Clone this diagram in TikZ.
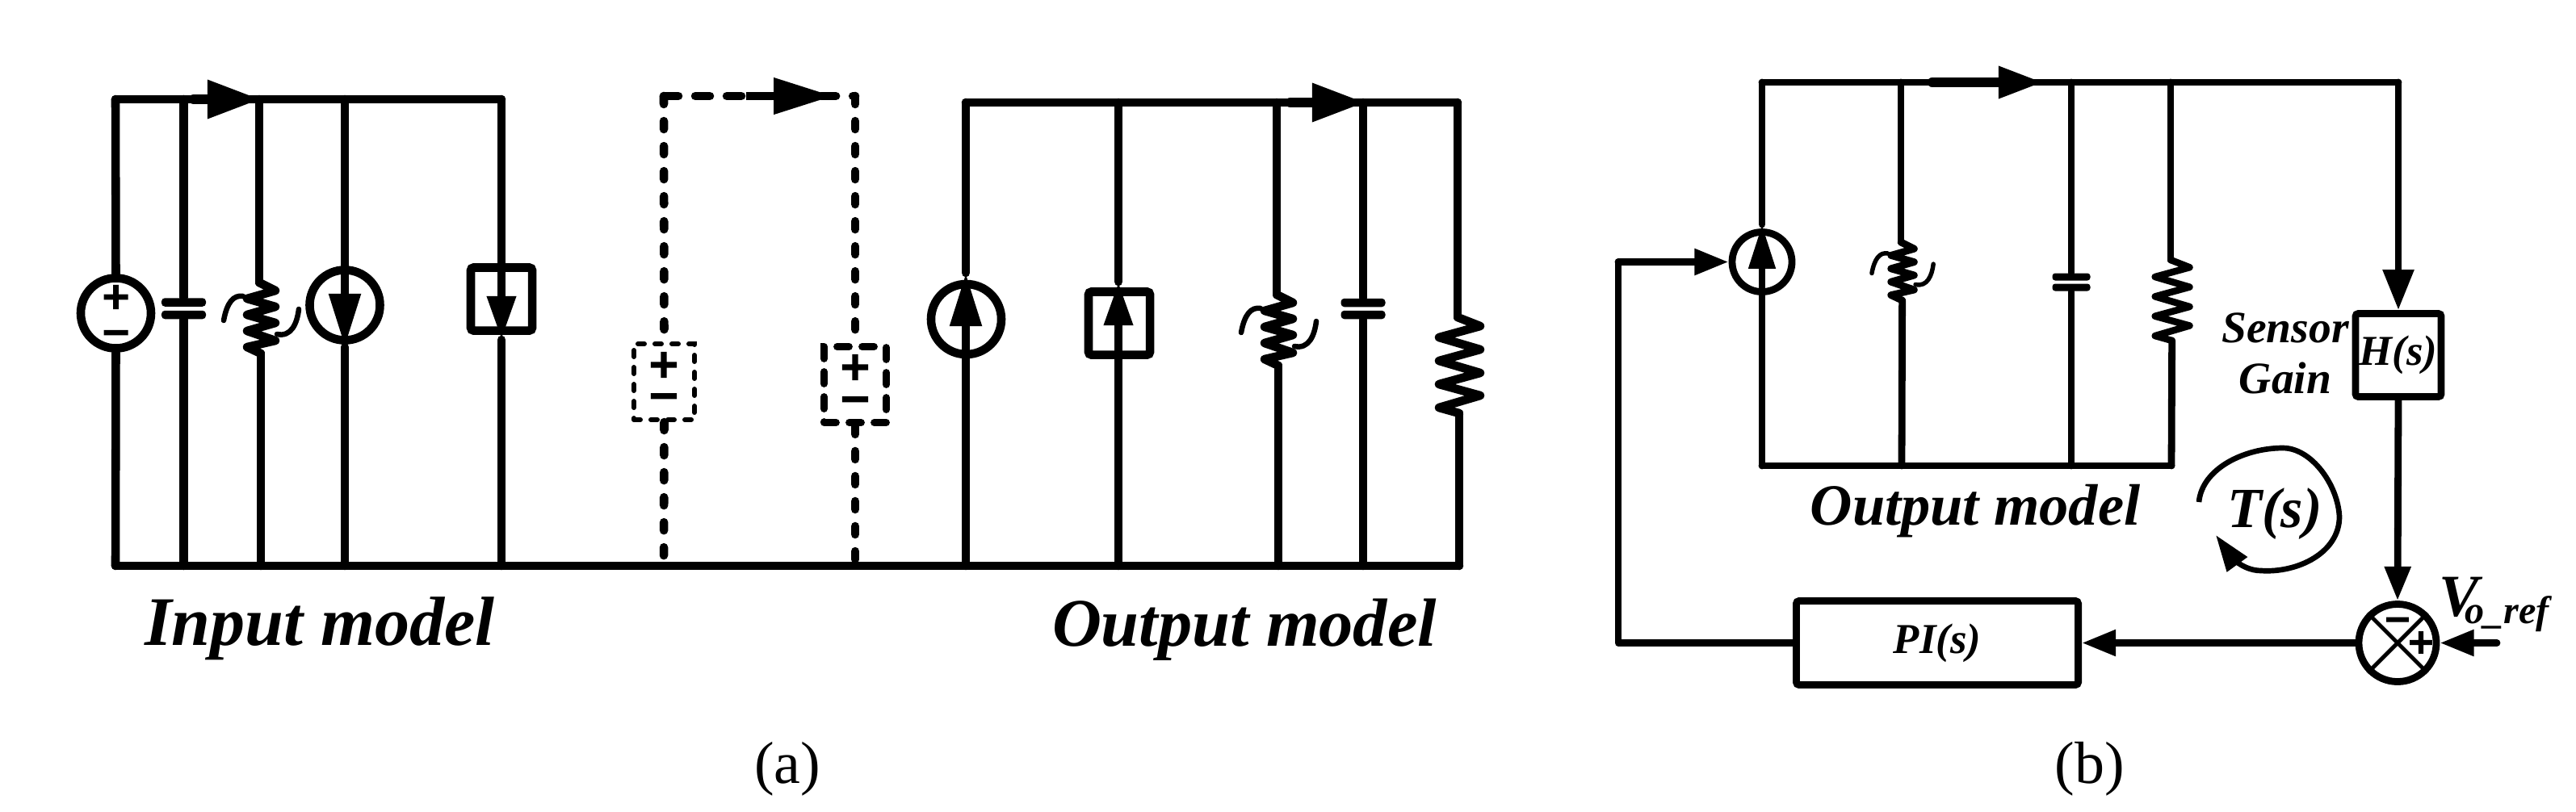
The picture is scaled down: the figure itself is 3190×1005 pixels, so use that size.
\documentclass[tikz,border=0pt]{standalone}
\usepackage{fontspec}
\setmainfont{Liberation Serif}
\newfontfamily\signfont[FakeBold=3]{DejaVu Sans Bold}
\usetikzlibrary{arrows.meta}
\tikzset{%
  tap/.style      = {coordinate},
  wire/.style     = {line width=3pt, line join=round, line cap=round},
  wireb/.style    = {line width=2.5pt, line join=round, line cap=round},
  dashwire/.style = {line width=3pt, line cap=round, dash pattern=on 0.1cm off 0.21cm},
  dashtop/.style  = {line width=3pt, line cap=round, dash pattern=on 0.18cm off 0.21cm},
  source/.style   = {draw, circle, line width=3pt, inner sep=0pt, minimum size=0.87cm},
  sourceb/.style  = {draw, circle, line width=2.5pt, inner sep=0pt, minimum size=0.74cm},
  block/.style    = {draw, rectangle, line width=3pt, rounded corners=1pt, inner sep=0pt,
    minimum width=0.76cm, minimum height=0.78cm},
  blockb/.style   = {draw, rectangle, line width=2.5pt, rounded corners=1pt, inner sep=0pt},
  dashbox/.style  = {draw, rectangle, inner sep=0pt, line cap=round, minimum height=0.94cm},
  plate/.style    = {fill, rectangle, rounded corners=1.2pt, inner sep=0pt,
    minimum width=0.55cm, minimum height=0.105cm},
  plateb/.style   = {fill, rectangle, rounded corners=1pt, inner sep=0pt,
    minimum width=0.47cm, minimum height=0.09cm},
  sign/.style     = {inner sep=0pt, font=\signfont\fontsize{#1}{#1}\selectfont},
  lbl/.style      = {inner sep=0pt, font=\bfseries\itshape\fontsize{#1}{#1}\selectfont},
  heavy/.style    = {line width=3.6pt, line cap=round},
  tiptop/.style   = {-{Triangle[length=18.8pt,width=12.8pt]}},
  tipsrc/.style   = {-{Triangle[length=18.8pt,width=10.6pt]}},
  tipsrcb/.style  = {-{Triangle[length=15.6pt,width=9pt]}},
  tipbox/.style   = {-{Triangle[length=15.4pt,width=9.6pt]}},
  tipb/.style     = {-{Triangle[length=12pt,width=8.8pt]}}
}
% variable coil: anchor, scale, line width
\newcommand{\varcoil}[3]{%
  \begin{scope}[shift={(#1)},scale=#2]
    \draw[line width=#3, line join=round, line cap=round] (0,0) -- (20,10) -- (-15,20) -- (20,30) -- (-15,40)
      -- (20,50) -- (-15,60) -- (20,72) -- (-15,80) -- (2,88) coordinate (#1e);
    \draw[line width=0.62*#3, line cap=round] (-44,47) .. controls (-40,25) and (-32,15) .. (-20,17);
    \draw[line width=0.62*#3, line cap=round] (49,33) .. controls (47,50) and (40,68) .. (22,64);
  \end{scope}}
% resistor: anchor, scale, line width
\newcommand{\zigres}[3]{%
  \begin{scope}[shift={(#1)},scale=#2]
    \draw[line width=#3, line join=round, line cap=round] (0,0) -- (28,11) -- (-23,25) -- (28,40) -- (-23,54)
      -- (28,69) -- (-23,83) -- (28,97) -- (-23,112) -- (2,119) coordinate (#1e);
  \end{scope}}

\begin{document}
\begin{tikzpicture}[x=0.01cm, y=-0.01cm]
  \useasboundingbox (0,0) rectangle (3190,1005);

  % (a) input model
  \draw node at (143,123) [tap] (tl1) {};
  \draw node at (240,123) [tap] (sa1) {};
  \draw node at (323,123) [tap] (ta1) {};
  \draw node at (621,123) [tap] (tr1) {};
  \draw node at (143,701) [tap] (bl1) {};
  \draw node at (1807,701) [tap] (br1) {};
  \draw node at (143.5,388) [source] (vin) {};
  \draw node at (143.5,368) [sign=13] (vinp) {+};
  \draw node at (143.5,418) [sign=13] (vinm) {−};
  \draw[wire] (tl1) -- (vin.north);
  \draw[wire] (vin.south) -- (bl1);
  \draw[wire] (bl1) -- (br1);
  \draw[wire] (tl1) -- (tr1);
  \draw[heavy, tiptop] (sa1) -- (ta1);

  \draw node at (227.5,123) [tap] (tc1) {};
  \draw node at (227.5,701) [tap] (bc1) {};
  \draw node at (227.5,374.5) [plate] (c1a) {};
  \draw node at (227.5,390) [plate] (c1b) {};
  \draw[wire] (tc1) -- (c1a.north);
  \draw[wire] (c1b.south) -- (bc1);

  \draw node at (321,123) [tap] (tl2) {};
  \draw node at (321,350) [tap] (li1) {};
  \draw node at (323,701) [tap] (bl2) {};
  \draw[wire] (tl2) -- (li1);
  \varcoil{li1}{1}{3pt}
  \draw[wire] (li1e) -- (bl2);

  \draw node at (427,123) [tap] (ti1) {};
  \draw node at (427,430) [tap] (ai1) {};
  \draw node at (427,701) [tap] (bi1) {};
  \draw node at (427,378) [source] (iin) {};
  \draw[wire, tipsrc] (ti1) -- (ai1);
  \draw[wire] (ai1) -- (bi1);

  \draw node at (621,421) [tap] (ab1) {};
  \draw node at (621,701) [tap] (bb1) {};
  \draw node at (621,370.5) [block] (iinb) {};
  \draw[wire, tipbox] (tr1) -- (ab1);
  \draw[wire] (ab1) -- (bb1);

  % (a) dashed link
  \draw node at (822,119) [tap] (td1) {};
  \draw node at (1059,119) [tap] (td2) {};
  \draw node at (924,119) [tap] (sd1) {};
  \draw node at (1032,119) [tap] (ad1) {};
  \draw node at (822,701) [tap] (bd1) {};
  \draw node at (1059,701) [tap] (bd2) {};
  \draw node at (822.5,473) [dashbox, line width=1.7pt, minimum width=0.75cm,
    dash pattern=on 0.08cm off 0.13cm] (dv1) {};
  \draw node at (1059,476.5) [dashbox, line width=2.5pt, minimum width=0.77cm,
    dash pattern=on 0.15cm off 0.16cm] (dv2) {};
  \draw node at (822,452) [sign=14] (dv1p) {+};
  \draw node at (822,497) [sign=14] (dv1m) {−};
  \draw node at (1059,455) [sign=14] (dv2p) {+};
  \draw node at (1059,501) [sign=14] (dv2m) {−};
  \draw[dashwire] (td1) -- (dv1.north);
  \draw[dashwire] (td2) -- (dv2.north);
  \draw[dashwire] (dv1.south) -- (bd1);
  \draw[dashwire] (dv2.south) -- (bd2);
  \draw[dashtop] (td1) -- (td2);
  \draw[wire, line cap=butt, -{Triangle[length=21pt,width=12.2pt]}] (sd1) -- (ad1);

  % (a) output model
  \draw node at (1196,127) [tap] (tl3) {};
  \draw node at (1598,127) [tap] (sa3) {};
  \draw node at (1691,127) [tap] (ta3) {};
  \draw node at (1805,127) [tap] (tr3) {};
  \draw node at (1196,701) [tap] (bs3) {};
  \draw node at (1196,338) [tap] (as3) {};
  \draw node at (1196.5,395.5) [source] (iout) {};
  \draw[wire] (tl3) -- (tr3);
  \draw[heavy, tiptop] (sa3) -- (ta3);
  \draw[wire, tipsrc] (bs3) -- (as3);
  \draw[wire] (as3) -- (tl3);

  \draw node at (1385,127) [tap] (tb3) {};
  \draw node at (1385,349) [tap] (ab3) {};
  \draw node at (1385,701) [tap] (bb3) {};
  \draw node at (1386,400.5) [block] (ioutb) {};
  \draw[wire, tipbox] (bb3) -- (ab3);
  \draw[wire] (ab3) -- (tb3);

  \draw node at (1581,127) [tap] (tl4) {};
  \draw node at (1581,365) [tap] (li2) {};
  \draw node at (1583,701) [tap] (bl4) {};
  \draw[wire] (tl4) -- (li2);
  \varcoil{li2}{1}{3pt}
  \draw[wire] (li2e) -- (bl4);

  \draw node at (1688,127) [tap] (tc2) {};
  \draw node at (1688,701) [tap] (bc2) {};
  \draw node at (1688,375) [plate] (c2a) {};
  \draw node at (1688,390) [plate] (c2b) {};
  \draw[wire] (tc2) -- (c2a.north);
  \draw[wire] (c2b.south) -- (bc2);

  \draw node at (1805,393) [tap] (ro1) {};
  \draw[wire] (tr3) -- (ro1);
  \zigres{ro1}{1}{3pt}
  \draw[wire] (ro1e) -- (br1);

  \node[lbl=24.5, anchor=base] (inlab) at (396,799) {Input model};
  \node[lbl=24, anchor=base] (outlab) at (1541,800) {Output model};
  \node[inner sep=0pt, anchor=base, font=\fontsize{21}{21}\selectfont] (capa) at (975,970) {(a)};

  % (b) output model in the loop
  \draw node at (2182,102) [tap] (tl5) {};
  \draw node at (2393,102) [tap] (sa5) {};
  \draw node at (2531,102) [tap] (ta5) {};
  \draw node at (2688,102) [tap] (tr5) {};
  \draw node at (2970,102) [tap] (tk5) {};
  \draw node at (2182,577) [tap] (bl5) {};
  \draw node at (2689,577) [tap] (br5) {};
  \draw node at (2182,278) [tap] (as5) {};
  \draw node at (2182,324.5) [sourceb] (ictl) {};
  \draw[wireb] (tl5) -- (tk5);
  \draw[heavy, -{Triangle[length=16pt,width=10.5pt]}] (sa5) -- (ta5);
  \draw[wireb, tipsrcb] (bl5) -- (as5);
  \draw[wireb] (as5) -- (tl5);
  \draw[wireb] (bl5) -- (br5);

  \draw node at (2354,102) [tap] (tl6) {};
  \draw node at (2354,300) [tap] (li3) {};
  \draw node at (2355,577) [tap] (bl6) {};
  \draw[wireb] (tl6) -- (li3);
  \varcoil{li3}{0.82}{2.5pt}
  \draw[wireb] (li3e) -- (bl6);

  \draw node at (2565,102) [tap] (tc3) {};
  \draw node at (2565,577) [tap] (bc3) {};
  \draw node at (2565,343) [plateb] (c3a) {};
  \draw node at (2565,356) [plateb] (c3b) {};
  \draw[wireb] (tc3) -- (c3a.north);
  \draw[wireb] (c3b.south) -- (bc3);

  \draw node at (2688,322) [tap] (ro2) {};
  \draw[wireb] (tr5) -- (ro2);
  \zigres{ro2}{0.84}{2.4pt}
  \draw[wireb] (ro2e) -- (br5);

  % (b) control loop
  \draw node at (2970,440) [blockb, minimum width=1.06cm, minimum height=1.03cm,
    lbl=15] (hgain) {\raisebox{-1.4pt}{H(s)}};
  \draw node at (2399,796.5) [blockb, minimum width=3.49cm, minimum height=1.04cm,
    lbl=15] (pictl) {\raisebox{-2pt}{PI(s)}};
  \draw node at (2969,796.5) [sourceb, minimum size=0.96cm] (sum1) {};
  \draw node at (2969,773) [sign=12] (summ) {−};
  \draw node at (2998,796) [sign=12] (sump) {+};
  \draw node at (3092,796.5) [tap] (vref) {};
  \draw node at (2004,324.5) [tap] (fbk) {};
  \draw[line width=1.4pt] (sum1.45) -- (sum1.225);
  \draw[line width=1.4pt] (sum1.135) -- (sum1.-45);
  \draw[wireb, -{Triangle[length=14.2pt,width=10.5pt]}] (tk5) -- (hgain.north);
  \draw[wireb, tipb] (hgain.south) -- (sum1.north);
  \draw[wireb, tipb] (vref) -- (sum1.east);
  \draw[wireb, tipb] (sum1.west) -- (pictl.east);
  \draw[wireb] (pictl.west) -| (fbk);
  \draw[wireb, tipb] (fbk) -- (ictl.west);

  \node[lbl=15.8, align=center] (sens) at (2830,438) {Sensor\\[2pt]Gain};
  \node[lbl=20.6, anchor=base] (outlabb) at (2446,650) {Output model};
  \node[lbl=20, anchor=base] (loopt) at (2817,653) {T(s)};
  \node[lbl=21, anchor=base west] (vlab) at (3020,763)
    {V\kern-5pt\raisebox{-2.8pt}{\fontsize{13.7}{14}\selectfont o\_ref}};
  \node[inner sep=0pt, anchor=base, font=\fontsize{21}{21}\selectfont] (capb) at (2588,970) {(b)};
  \draw[line width=1.9pt, -{Triangle[length=12.8pt,width=8.5pt]}] (2723,622)
    .. controls (2727,580) and (2780,555) .. (2827,555)
    .. controls (2862,555) and (2895,600) .. (2897,640)
    .. controls (2897,685) and (2845,710) .. (2800,707)
    .. controls (2775,707) and (2760,685) .. (2744,663);

\end{tikzpicture}
\end{document}
